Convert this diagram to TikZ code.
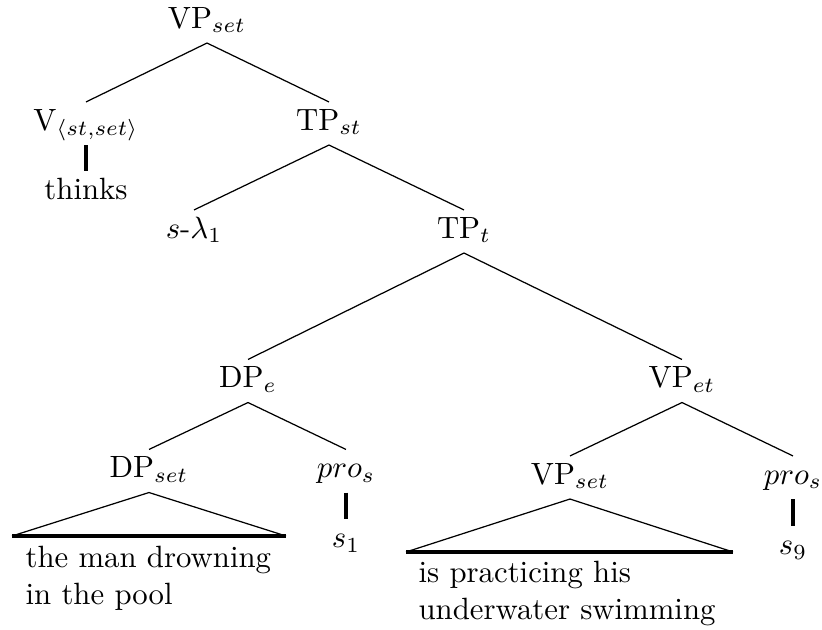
\documentclass[tikz,border=0pt]{standalone}
\usetikzlibrary{calc}
\tikzset{
  cat/.style={inner sep=2pt,text height=7pt,text depth=2.6pt},
  branch/.style={line width=0.4pt},
  stem/.style={line width=1pt},
  yield/.style={inner sep=0pt,align=left,anchor=north west},
}
\begin{document}
\begin{tikzpicture}[x=0.325pt,y=-0.325pt]
  \useasboundingbox (0,0) rectangle (822,630);

  % CATEGORIES
  \node[cat] (VPtop) at (207,21.5)  {VP$_{set}$};
  \node[cat] (V)     at (86,123.5)  {V$_{\langle st,set\rangle}$};
  \node[cat] (thk)   at (86,193)    {thinks};
  \node[cat] (TPst)  at (329,123.5) {TP$_{st}$};
  \node[cat] (lam)   at (194,231.5) {$s$-$\lambda_1$};
  \node[cat] (TPt)   at (464,231.5) {TP$_t$};
  \node[cat] (DPe)   at (248,381)   {DP$_e$};
  \node[cat] (VPet)  at (682,381)   {VP$_{et}$};
  \node[cat] (DPset) at (149,471)   {DP$_{set}$};
  \node[cat] (proA)  at (346,471)   {$pro_s$};
  \node[cat] (sA)    at (346,541)   {$s_1$};
  \node[cat] (VPset) at (570,477.5) {VP$_{set}$};
  \node[cat] (proB)  at (793,477.5) {$pro_s$};
  \node[cat] (sB)    at (793,548)   {$s_9$};

  % TRIANGLE CORNERS
  \coordinate (DL) at (12,536);
  \coordinate (DR) at (286,536);
  \coordinate (VL) at (406,552);
  \coordinate (VR) at (733,552);

  % BRANCHES
  \draw[branch] (VPtop.south) -- (V.north);
  \draw[branch] (VPtop.south) -- (TPst.north);
  \draw[branch] (TPst.south) -- (lam.north);
  \draw[branch] (TPst.south) -- (TPt.north);
  \draw[branch] (TPt.south) -- (DPe.north);
  \draw[branch] (TPt.south) -- (VPet.north);
  \draw[branch] (DPe.south) -- (DPset.north);
  \draw[branch] (DPe.south) -- (proA.north);
  \draw[branch] (VPet.south) -- (VPset.north);
  \draw[branch] (VPet.south) -- (proB.north);
  \draw[stem] (V.south) -- (thk.north);
  \draw[stem] (proA.south) -- (sA.north);
  \draw[stem] (proB.south) -- (sB.north);

  % TRIANGLES
  \draw[branch] (DL) -- (DPset.south) -- (DR);
  \draw[stem] (DL) -- (DR);
  \draw[branch] (VL) -- (VPset.south) -- (VR);
  \draw[stem] (VL) -- (VR);

  % YIELDS
  \node[yield] (ydA) at (25,545.6)  {the man drowning\\in the pool};
  \node[yield] (ydB) at (418,560.6) {is practicing his\\underwater swimming};
\end{tikzpicture}
\end{document}
